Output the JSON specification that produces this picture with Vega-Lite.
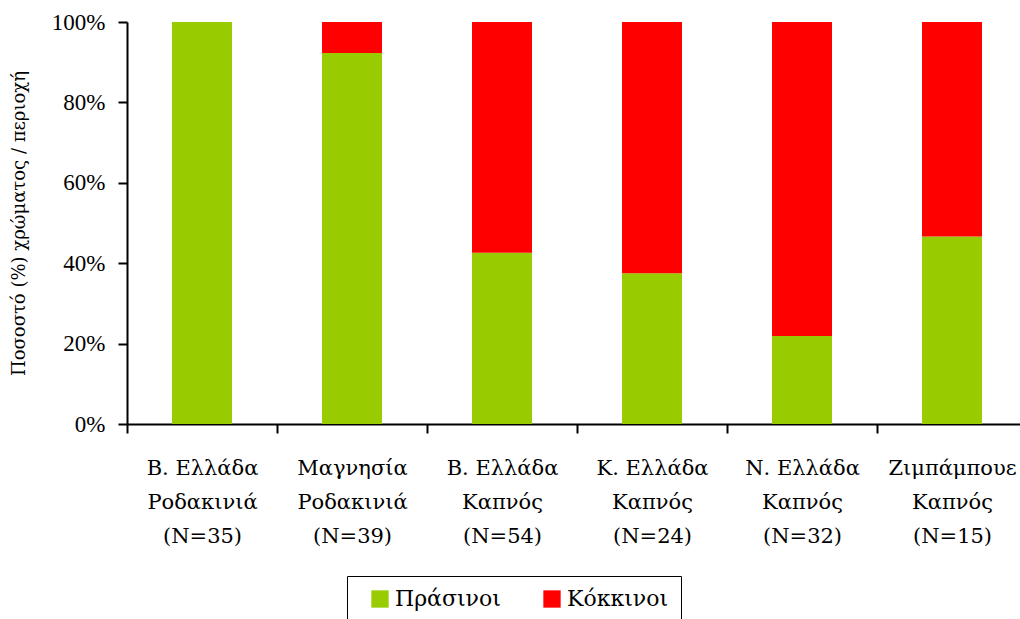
{
  "$schema": "https://vega.github.io/schema/vega-lite/v6.json",
  "autosize": {"type": "none"},
  "padding": {"left": 127, "top": 22, "right": 0, "bottom": 195},
  "width": 900,
  "height": 402,
  "background": "white",
  "config": {
    "view": {"stroke": null},
    "font": "DejaVu Serif"
  },
  "data": {
    "values": [
      {"region": "Β. Ελλάδα|Ροδακινιά|(N=35)", "colour": "Πράσινοι", "count": 35},
      {"region": "Β. Ελλάδα|Ροδακινιά|(N=35)", "colour": "Κόκκινοι", "count": 0},
      {"region": "Μαγνησία|Ροδακινιά|(N=39)", "colour": "Πράσινοι", "count": 36},
      {"region": "Μαγνησία|Ροδακινιά|(N=39)", "colour": "Κόκκινοι", "count": 3},
      {"region": "Β. Ελλάδα|Καπνός|(N=54)", "colour": "Πράσινοι", "count": 23},
      {"region": "Β. Ελλάδα|Καπνός|(N=54)", "colour": "Κόκκινοι", "count": 31},
      {"region": "Κ. Ελλάδα|Καπνός|(N=24)", "colour": "Πράσινοι", "count": 9},
      {"region": "Κ. Ελλάδα|Καπνός|(N=24)", "colour": "Κόκκινοι", "count": 15},
      {"region": "Ν. Ελλάδα|Καπνός|(N=32)", "colour": "Πράσινοι", "count": 7},
      {"region": "Ν. Ελλάδα|Καπνός|(N=32)", "colour": "Κόκκινοι", "count": 25},
      {"region": "Ζιμπάμπουε|Καπνός|(N=15)", "colour": "Πράσινοι", "count": 7},
      {"region": "Ζιμπάμπουε|Καπνός|(N=15)", "colour": "Κόκκινοι", "count": 8}
    ]
  },
  "mark": {"type": "bar", "width": {"band": 0.4}},
  "encoding": {
    "x": {
      "field": "region",
      "type": "nominal",
      "sort": null,
      "scale": {"paddingInner": 0, "paddingOuter": 0},
      "axis": {
        "title": null,
        "labelAngle": 0,
        "labelExpr": "datum.value ? split(datum.value, '|') : ''",
        "labelFont": "DejaVu Serif",
        "labelFontSize": 21,
        "labelLineHeight": 34,
        "labelColor": "black",
        "labelPadding": 24,
        "labelBaseline": "top",
        "labelLimit": 300,
        "labelOverlap": false,
        "tickBand": "extent",
        "tickSize": 9,
        "tickWidth": 2,
        "tickColor": "black",
        "domainColor": "black",
        "domainWidth": 2,
        "grid": false
      }
    },
    "y": {
      "field": "count",
      "type": "quantitative",
      "stack": "normalize",
      "axis": {
        "title": "Ποσοστό (%) χρώματος / περιοχή",
        "titleFont": "DejaVu Serif",
        "titleFontSize": 18,
        "titleFontWeight": "normal",
        "titleColor": "black",
        "titlePadding": 23,
        "format": ".0%",
        "values": [0, 0.2, 0.4, 0.6, 0.8, 1],
        "labelFont": "Liberation Serif",
        "labelFontSize": 23,
        "labelColor": "black",
        "labelPadding": 13,
        "labelOverlap": false,
        "tickSize": 9,
        "tickWidth": 2,
        "tickColor": "black",
        "domainColor": "black",
        "domainWidth": 2,
        "grid": false
      }
    },
    "color": {
      "field": "colour",
      "type": "nominal",
      "scale": {"domain": ["Πράσινοι", "Κόκκινοι"], "range": ["#99CC00", "#FF0000"]},
      "legend": {
        "title": null,
        "orient": "none",
        "direction": "horizontal",
        "legendX": 220,
        "legendY": 554,
        "strokeColor": "black",
        "padding": 12,
        "symbolType": "square",
        "symbolSize": 300,
        "symbolStrokeWidth": 0,
        "labelFont": "DejaVu Serif",
        "labelFontSize": 22,
        "labelColor": "black",
        "labelLimit": 300,
        "columnPadding": 30,
        "symbolOffset": 10
      }
    },
    "order": {"field": "colour", "sort": "descending"}
  }
}
